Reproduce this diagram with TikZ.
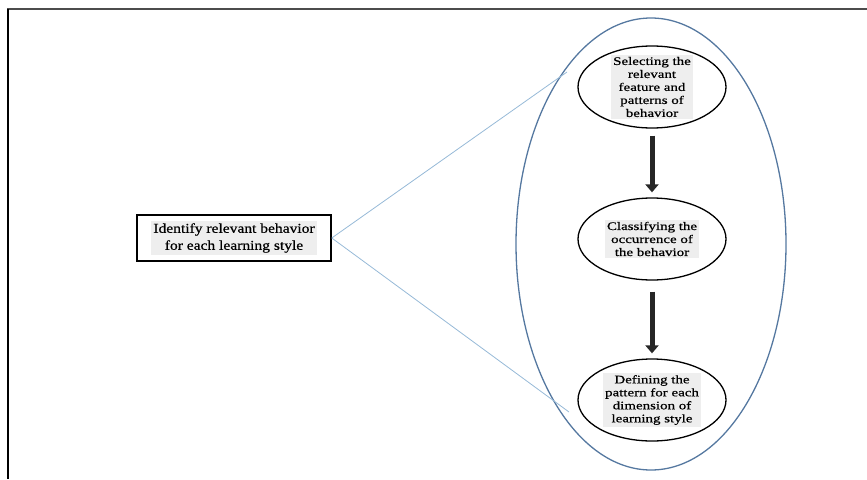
\documentclass[tikz,border=0pt]{standalone}
\usepackage{fontspec}
\setmainfont{Liberation Serif}
\newfontfamily\stepfont[FakeStretch=1.3,FakeBold=0.6]{Liberation Serif}
\newfontfamily\boxfont[FakeStretch=1.15,FakeBold=0.6]{Liberation Serif}
\usetikzlibrary{arrows.meta,shapes.geometric,calc}
\definecolor{linkblue}{RGB}{150,185,215}
\definecolor{rimblue}{RGB}{85,120,160}
\definecolor{textbg}{RGB}{238,238,238}
\tikzset{
  stepoval/.style={ellipse, draw=black, line width=1.3pt, minimum width=148pt, minimum height=82pt, inner sep=0pt},
  txt/.style={fill=textbg, align=center, font=\stepfont\fontsize{11.5}{13}\selectfont, inner sep=2pt},
  boxtxt/.style={fill=textbg, align=center, font=\boxfont\fontsize{13.5}{17}\selectfont, inner sep=2pt},
  downarrow/.style={line width=5pt, draw=black!85, -{Triangle[width=13pt,length=8pt]}},
  link/.style={draw=linkblue, line width=0.8pt}
}
\begin{document}
\begin{tikzpicture}[x=1pt,y=-1pt]
\useasboundingbox (0,0) rectangle (867,479);
% outer frame: top and left edges
\draw[black!70, line width=2pt] (7,9) -- (867,9);
\draw[black, line width=1.5pt] (8,9) -- (8,479);
% enclosing oval
\node[ellipse, draw=rimblue, line width=1.3pt, minimum width=270pt, minimum height=452pt] (big) at (651,244) {};
% input box
\node[draw=black, line width=1.5pt, minimum width=194pt, minimum height=46pt] (id) at (234,238) {};
\node[boxtxt] at (id) {Identify relevant behavior\\for each learning style};
% fan of lines from the box to the oval
\coordinate (t1) at (567,72);
\coordinate (t2) at (569,412);
\draw[link] (id.east) -- (t1);
\draw[link] (id.east) -- (t2);
% steps
\node[stepoval] (s1) at (652,87) {};
\node[txt] at (s1) {Selecting the\\relevant\\feature and\\patterns of\\behavior};
\node[stepoval] (s2) at (652,239) {};
\node[txt] at (s2) {Classifying the\\occurrence of\\the behavior};
\node[stepoval] (s3) at (652,400) {};
\node[txt] at (s3) {Defining the\\pattern for each\\dimension of\\learning style};
% arrows between steps
\draw[downarrow] ($(s1.south)+(0,7)$) -- ($(s2.north)+(0,-5)$);
\draw[downarrow] ($(s2.south)+(0,11)$) -- ($(s3.north)+(0,-5)$);
\end{tikzpicture}
\end{document}
